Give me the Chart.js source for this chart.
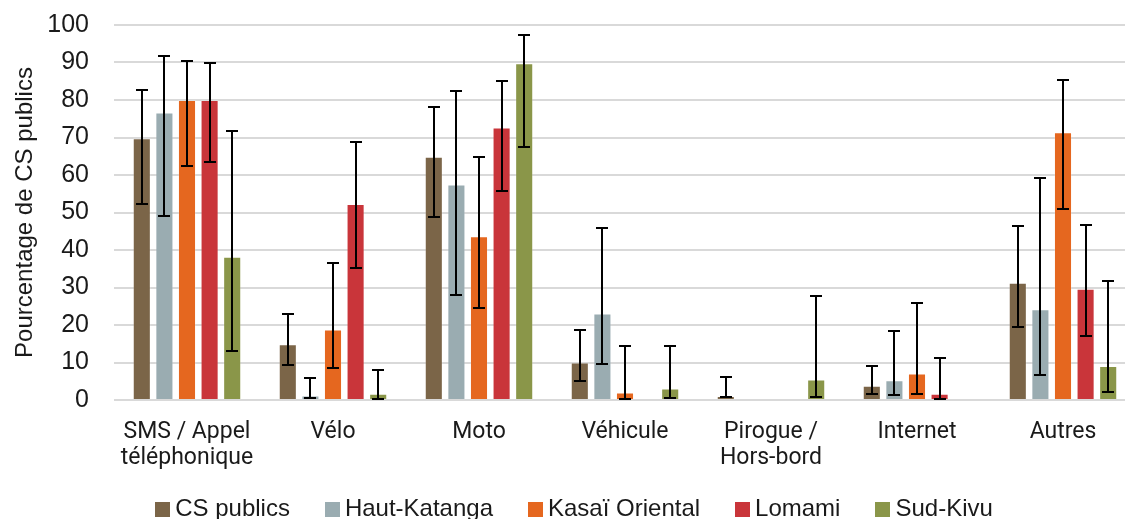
<!DOCTYPE html>
<html>
<head>
<meta charset="utf-8">
<script src="https://cdn.jsdelivr.net/npm/chart.js@4/dist/chart.umd.min.js"></script>
<style>
  html, body { margin: 0; padding: 0; background: #ffffff; overflow: hidden; width: 1125px; height: 519px; }
  #wrap { position: absolute; left: 0; top: 0; width: 1140px; height: 519px; }
</style>
</head>
<body>
<div id="wrap"><canvas id="c" width="1140" height="519"></canvas></div>
<script>
const categories = [["SMS / Appel", "téléphonique"], "Vélo", "Moto", "Véhicule", ["Pirogue /", "Hors-bord"], "Internet", "Autres"];
const seriesNames = ["CS publics", "Haut-Katanga", "Kasaï Oriental", "Lomami", "Sud-Kivu"];
const seriesColors = ["#7B6548", "#9AACB1", "#E5671F", "#C9353A", "#8A9649"];

const csPublics      = [69.8, 14.9, 64.9, 10.0, 1.1, 3.8, 31.3];
const csPublicsLow   = [52.3,  9.4, 48.8,  5.1, 0.7, 1.6, 19.4];
const csPublicsHigh  = [82.6, 22.9, 78.1, 18.6, 6.1, 9.1, 46.4];

const hautKatanga     = [76.7, 1.2, 57.5, 23.1, 0, 5.3, 24.2];
const hautKatangaLow  = [49.2, 0.5, 28.0,  9.7, null, 1.3, 6.6];
const hautKatangaHigh = [91.7, 5.9, 82.5, 45.8, null, 18.4, 59.2];

const kasaiOriental     = [80.0, 18.8, 43.7, 2.0, 0, 7.1, 71.4];
const kasaiOrientalLow  = [62.5,  8.6, 24.6, 0.4, null, 1.7, 51.0];
const kasaiOrientalHigh = [90.3, 36.5, 64.9, 14.3, null, 26.0, 85.4];

const lomami     = [80.0, 52.3, 72.7, 0, 0, 1.7, 29.7];
const lomamiLow  = [63.6, 35.2, 55.6, null, null, 0.4, 17.0];
const lomamiHigh = [89.8, 68.8, 85.0, null, null, 11.1, 46.6];

const sudKivu     = [38.2, 1.7, 89.8, 3.1, 5.5, 0, 9.1];
const sudKivuLow  = [13.2, 0.3, 67.4, 0.6, 0.9, null, 2.1];
const sudKivuHigh = [71.7, 8.0, 97.3, 14.4, 27.7, null, 31.8];

const yTicks = [0, 10, 20, 30, 40, 50, 60, 70, 80, 90, 100];
const yTitle = "Pourcentage de CS publics";

const values = [csPublics, hautKatanga, kasaiOriental, lomami, sudKivu];
const lows = [csPublicsLow, hautKatangaLow, kasaiOrientalLow, lomamiLow, sudKivuLow];
const highs = [csPublicsHigh, hautKatangaHigh, kasaiOrientalHigh, lomamiHigh, sudKivuHigh];

const datasets = seriesNames.map((name, i) => ({
  label: name,
  data: values[i],
  backgroundColor: seriesColors[i],
  borderColor: 'rgba(255,255,255,0.2)',
  borderWidth: 1,
  errLow: lows[i],
  errHigh: highs[i],
  categoryPercentage: 0.774,
  barPercentage: 0.8
}));

const errorBars = {
  id: 'errorBars',
  afterDatasetsDraw(chart) {
    const ctx = chart.ctx;
    const y = chart.scales.y;
    ctx.save();
    ctx.strokeStyle = '#000000';
    ctx.lineWidth = 2;
    ctx.lineCap = 'butt';
    chart.data.datasets.forEach((ds, i) => {
      const meta = chart.getDatasetMeta(i);
      meta.data.forEach((el, j) => {
        const lo = ds.errLow[j], hi = ds.errHigh[j];
        if (lo == null || hi == null) return;
        const x = Math.round(el.x);
        const yl = Math.round(y.getPixelForValue(lo)), yh = Math.round(y.getPixelForValue(hi));
        ctx.beginPath();
        ctx.moveTo(x, yl); ctx.lineTo(x, yh);
        ctx.moveTo(x - 6, yl); ctx.lineTo(x + 6, yl);
        ctx.moveTo(x - 6, yh); ctx.lineTo(x + 6, yh);
        ctx.stroke();
      });
    });
    ctx.restore();
  }
};

const customLegend = {
  id: 'customLegend',
  afterDraw(chart) {
    const ctx = chart.ctx;
    ctx.save();
    ctx.font = '24px "Liberation Sans", Arial, sans-serif';
    ctx.textBaseline = 'middle';
    ctx.textAlign = 'left';
    const box = 15, gap = 5, spacing = 35;
    const items = chart.data.datasets.map(ds => ({ text: ds.label, color: ds.backgroundColor, w: ctx.measureText(ds.label).width }));
    const total = items.reduce((s, it) => s + box + gap + it.w, 0) + spacing * (items.length - 1);
    let x = 574 - total / 2;
    const cy = 509;
    items.forEach(it => {
      ctx.fillStyle = it.color;
      ctx.fillRect(Math.round(x), cy - 7, box, box);
      ctx.fillStyle = '#1a1a1a';
      ctx.fillText(it.text, x + box + gap, cy);
      x += box + gap + it.w + spacing;
    });
    ctx.restore();
  }
};

new Chart(document.getElementById('c'), {
  type: 'bar',
  data: { labels: categories, datasets },
  plugins: [errorBars, customLegend],
  options: {
    responsive: false,
    animation: false,
    devicePixelRatio: 1,
    layout: { padding: { top: 25, right: 4, bottom: 0, left: 0 } },
    plugins: { legend: { display: false }, tooltip: { enabled: false } },
    scales: {
      x: {
        grid: { display: false, drawTicks: false },
        border: { display: false },
        ticks: {
          color: '#1a1a1a',
          padding: 19,
          maxRotation: 0,
          autoSkip: false,
          font: { family: 'Roboto, "Liberation Sans", sans-serif', size: 23, lineHeight: '26px' }
        },
        afterFit(scale) { scale.height = 119; }
      },
      y: {
        min: 0, max: 100,
        afterBuildTicks(scale) { scale.ticks = yTicks.map(v => ({ value: v })); },
        grid: { color: '#d9d9d9', lineWidth: 2, drawTicks: true, tickLength: 22, tickColor: 'rgba(0,0,0,0)' },
        border: { display: false },
        ticks: {
          color: '#1a1a1a',
          padding: 3,
          font: { family: '"Liberation Sans", Arial, sans-serif', size: 25 }
        },
        title: {
          display: true,
          text: yTitle,
          color: '#1a1a1a',
          padding: { top: 11, bottom: 0 },
          font: { family: '"Liberation Sans", Arial, sans-serif', size: 24 }
        },
        afterFit(scale) { scale.width = 114; }
      }
    }
  }
});
</script>
</body>
</html>
